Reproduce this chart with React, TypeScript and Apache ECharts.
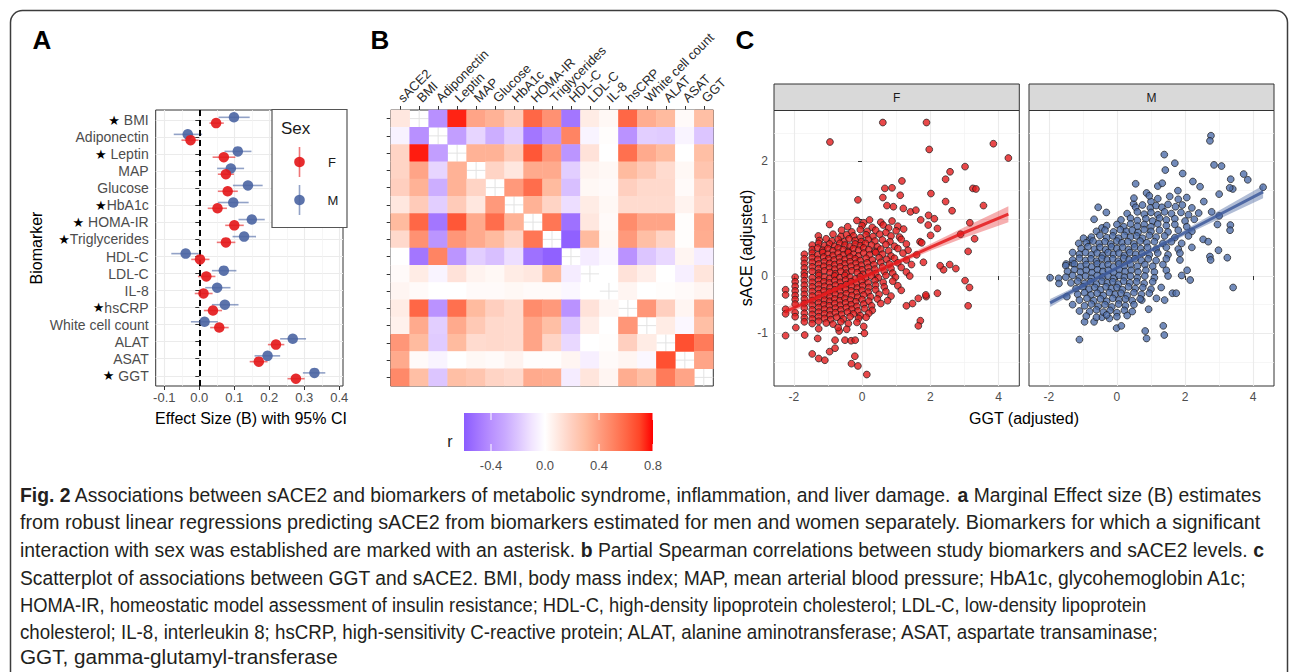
import React, { useEffect, useRef } from 'react';
import * as echarts from 'echarts';

const FONT = "'Liberation Sans', Arial, sans-serif";
const CAPFONT = "'Liberation Sans Narrow', 'Liberation Sans', Arial, sans-serif";

// ---------- Panel A ----------
const aLabels = ['★ BMI', 'Adiponectin', '★ Leptin', 'MAP', 'Glucose', '★HbA1c', '★ HOMA-IR', '★Triglycerides', 'HDL-C', 'LDL-C', 'IL-8', '★hsCRP', 'White cell count', 'ALAT', 'ASAT', '★ GGT'];
const mEst = [0.099, -0.033, 0.110, 0.090, 0.139, 0.097, 0.150, 0.128, -0.039, 0.070, 0.051, 0.073, 0.015, 0.267, 0.195, 0.329];
const mLo = [0.055, -0.073, 0.072, 0.051, 0.096, 0.053, 0.112, 0.095, -0.080, 0.036, 0.017, 0.036, -0.024, 0.231, 0.158, 0.296];
const mHi = [0.144, 0.008, 0.149, 0.128, 0.181, 0.141, 0.187, 0.162, -0.002, 0.106, 0.089, 0.112, 0.053, 0.305, 0.231, 0.360];
const fEst = [0.048, -0.025, 0.070, 0.076, 0.081, 0.052, 0.100, 0.076, 0.002, 0.020, 0.012, 0.039, 0.057, 0.219, 0.170, 0.276];
const fLo = [0.029, -0.051, 0.038, 0.053, 0.053, 0.024, 0.074, 0.050, -0.023, -0.004, -0.013, 0.013, 0.031, 0.196, 0.144, 0.252];
const fHi = [0.070, -0.002, 0.103, 0.099, 0.110, 0.079, 0.127, 0.103, 0.029, 0.046, 0.038, 0.065, 0.084, 0.243, 0.195, 0.301];
const aXTicks = [-0.1, 0, 0.1, 0.2, 0.3, 0.4];

// ---------- Panel B ----------
const heatCols = ['sACE2', 'BMI', 'Adiponectin', 'Leptin', 'MAP', 'Glucose', 'HbA1c', 'HOMA-IR', 'Triglycerides', 'HDL-C', 'LDL-C', 'IL-8', 'hsCRP', 'White cell count', 'ALAT', 'ASAT', 'GGT'];
const heatRows = ['BMI', 'Adiponectin', 'Leptin', 'MAP', 'Glucose', 'HbA1c', 'HOMA-IR', 'Triglycerides', 'HDL-C', 'LDL-C', 'IL-8', 'hsCRP', 'White cell count', 'ALAT', 'ASAT', 'GGT'];
const corr: (number | null)[][] = [
  [0.10, null, -0.40, 0.75, 0.38, 0.33, 0.22, 0.60, 0.45, -0.50, 0.08, 0.03, 0.60, 0.35, 0.30, 0.02, 0.28],
  [-0.05, -0.40, null, -0.34, -0.15, -0.28, -0.17, -0.50, -0.38, 0.50, -0.04, 0.01, -0.39, -0.17, -0.18, -0.04, -0.20],
  [0.18, 0.76, -0.34, null, 0.33, 0.33, 0.22, 0.65, 0.43, -0.38, 0.12, 0.00, 0.57, 0.36, 0.30, 0.00, 0.28],
  [0.18, 0.38, -0.15, 0.33, null, 0.18, 0.10, 0.36, 0.36, -0.17, 0.05, 0.03, 0.30, 0.23, 0.15, 0.03, 0.25],
  [0.20, 0.33, -0.28, 0.33, 0.18, null, 0.42, 0.58, 0.30, -0.22, 0.03, 0.02, 0.20, 0.16, 0.16, 0.02, 0.18],
  [0.10, 0.22, -0.17, 0.22, 0.10, 0.42, null, 0.33, 0.18, -0.12, 0.08, 0.03, 0.15, 0.15, 0.15, 0.05, 0.16],
  [0.30, 0.60, -0.50, 0.65, 0.36, 0.58, 0.33, null, 0.55, -0.52, 0.10, 0.02, 0.47, 0.38, 0.38, 0.01, 0.36],
  [0.16, 0.45, -0.38, 0.43, 0.36, 0.30, 0.18, 0.55, null, -0.58, 0.30, 0.03, 0.42, 0.28, 0.18, 0.01, 0.35],
  [0.00, -0.50, 0.50, -0.38, -0.17, -0.22, -0.12, -0.52, -0.58, null, -0.07, -0.03, -0.39, -0.20, -0.14, 0.04, -0.07],
  [0.02, 0.08, -0.04, 0.12, 0.05, 0.03, 0.08, 0.10, 0.30, -0.07, null, 0.00, 0.12, 0.07, 0.00, -0.06, 0.11],
  [0.04, 0.02, 0.00, 0.00, 0.02, 0.02, 0.03, 0.02, 0.02, -0.03, 0.00, null, 0.04, 0.00, 0.01, 0.02, 0.04],
  [0.08, 0.60, -0.39, 0.57, 0.30, 0.20, 0.15, 0.47, 0.42, -0.39, 0.12, 0.04, null, 0.43, 0.20, 0.04, 0.35],
  [0.06, 0.36, -0.17, 0.36, 0.23, 0.16, 0.15, 0.38, 0.28, -0.20, 0.07, 0.00, 0.43, null, 0.08, -0.03, 0.28],
  [0.43, 0.30, -0.18, 0.30, 0.15, 0.16, 0.15, 0.38, 0.18, -0.14, 0.00, 0.01, 0.20, 0.08, null, 0.67, 0.53],
  [0.36, 0.02, -0.04, 0.00, 0.03, 0.02, 0.05, 0.01, 0.01, 0.04, -0.06, 0.02, 0.04, -0.03, 0.67, null, 0.38],
  [0.48, 0.28, -0.20, 0.28, 0.25, 0.18, 0.16, 0.36, 0.35, -0.07, 0.11, 0.04, 0.35, 0.28, 0.53, 0.38, null],
];
const heatMin = -0.6;
const heatMax = 0.8;
const heatColors = ['#8B5CFF', '#A376FF', '#B890FF', '#C8A8FF', '#DCC5FF', '#F1E4FF', '#FFFFFF', '#FFE7DF', '#FFCFBF', '#FFBB9F', '#FF9E81', '#FF8463', '#FF6746', '#FF4628', '#FF0000'];
const cbTicks = [-0.4, 0, 0.4, 0.8];

// ---------- Panel C ----------
const cXTicks = [-2, 0, 2, 4];
const cYTicks = [-1, 0, 1, 2];
const fPts: number[][] = [
  [0.61, 2.68], [1.89, 2.68], [-0.94, 2.34], [1.97, 2.21], [3.85, 2.31], [4.29, 2.06], [3.02, 1.91], [2.58, 1.82], [2.45, 1.69], [1.17, 1.66],
  [0.67, 1.53], [0.88, 1.54], [3.25, 1.53], [3.34, 1.52], [2.02, 1.44], [-0.12, 1.33], [1.12, 1.41], [0.61, 1.37], [2.45, 1.30], [3.56, 1.23],
  [2.64, 1.14], [0.73, 1.23], [0.92, 1.21], [1.21, 1.18], [1.42, 1.12], [1.58, 1.15], [1.72, 0.98], [1.95, 1.06], [2.12, 1.0], [1.94, 0.89],
  [2.21, 0.83], [2.01, 0.71], [3.16, 0.93], [3.30, 0.65], [2.89, 0.73], [3.11, 0.43], [3.02, -0.08], [3.15, -0.20], [3.11, -0.52], [2.75, 0.13],
  [2.57, 0.20], [2.39, 0.11], [2.29, 0.18], [2.21, -0.30], [1.88, -0.36], [1.65, -0.39], [1.48, -0.48], [1.30, -0.52], [1.71, -0.78], [1.65, -0.87],
  [1.87, -0.33], [0.14, -1.72], [-0.12, -1.57], [-0.31, -1.53], [-0.21, -1.40], [-0.95, -1.32], [-0.79, -1.26], [-1.46, -1.36], [-1.27, -1.44], [-1.09, -1.47],
  [-2.24, -1.04], [-1.94, -0.90], [-1.68, -1.03], [-1.30, -1.09], [-0.79, -1.12], [-0.50, -1.12], [-0.32, -1.13], [-0.20, -1.12], [0.07, -1.00], [-0.67, -0.96],
  [-0.15, 0.97], [0.05, 0.93], [0.22, 0.98], [0.55, 0.94], [0.88, 0.96],
  [-0.95, 0.9], [-0.42, 0.86], [0.0, 0.88], [0.3, 0.85], [0.62, 0.89], [0.78, 0.84], [1.05, 0.87],
  [-0.6, 0.8], [-0.3, 0.77], [-0.05, 0.81], [0.15, 0.78], [0.4, 0.8], [0.7, 0.76], [1.0, 0.79], [1.22, 0.82],
  [-1.28, 0.7], [-0.85, 0.73], [-0.62, 0.69], [-0.45, 0.72], [-0.25, 0.7], [-0.05, 0.67], [0.12, 0.72], [0.32, 0.69], [0.52, 0.73], [0.85, 0.7], [1.1, 0.68],
  [-1.25, 0.62], [-1.05, 0.65], [-0.88, 0.61], [-0.7, 0.64], [-0.52, 0.6], [-0.38, 0.65], [-0.2, 0.62], [-0.02, 0.6], [0.18, 0.64], [0.38, 0.61], [0.6, 0.63], [0.82, 0.6], [1.15, 0.64], [1.7, 0.6],
  [-1.46, 0.54], [-1.27, 0.57], [-1.1, 0.53], [-0.95, 0.56], [-0.8, 0.52], [-0.65, 0.57], [-0.5, 0.54], [-0.35, 0.52], [-0.2, 0.56], [-0.05, 0.53], [0.1, 0.57], [0.28, 0.54], [0.45, 0.51], [0.7, 0.55], [0.95, 0.52], [1.3, 0.56], [1.75, 0.58],
  [-1.46, 0.46], [-1.3, 0.49], [-1.15, 0.45], [-1.0, 0.48], [-0.85, 0.44], [-0.7, 0.49], [-0.55, 0.46], [-0.4, 0.43], [-0.25, 0.48], [-0.1, 0.45], [0.05, 0.49], [0.2, 0.46], [0.38, 0.43], [0.55, 0.47], [0.78, 0.44], [1.05, 0.48], [1.35, 0.45],
  [-1.69, 0.38], [-1.46, 0.4], [-1.3, 0.37], [-1.15, 0.41], [-1.0, 0.38], [-0.85, 0.36], [-0.7, 0.4], [-0.55, 0.37], [-0.4, 0.41], [-0.25, 0.38], [-0.1, 0.35], [0.05, 0.4], [0.22, 0.37], [0.4, 0.41], [0.6, 0.38], [0.85, 0.35], [1.2, 0.4], [1.6, 0.37],
  [-1.69, 0.3], [-1.46, 0.32], [-1.3, 0.29], [-1.12, 0.33], [-0.98, 0.3], [-0.82, 0.28], [-0.66, 0.32], [-0.5, 0.29], [-0.35, 0.33], [-0.2, 0.3], [-0.05, 0.27], [0.12, 0.31], [0.3, 0.28], [0.5, 0.32], [0.72, 0.29], [0.95, 0.31], [1.3, 0.28],
  [-1.69, 0.22], [-1.46, 0.24], [-1.27, 0.21], [-1.1, 0.25], [-0.95, 0.22], [-0.8, 0.2], [-0.65, 0.24], [-0.5, 0.21], [-0.35, 0.25], [-0.18, 0.22], [-0.02, 0.19], [0.15, 0.23], [0.35, 0.2], [0.55, 0.24], [0.8, 0.21], [1.05, 0.23], [1.45, 0.2], [1.8, 0.24],
  [-1.69, 0.14], [-1.46, 0.16], [-1.27, 0.13], [-1.12, 0.17], [-0.96, 0.14], [-0.8, 0.12], [-0.64, 0.16], [-0.48, 0.13], [-0.32, 0.17], [-0.15, 0.14], [0.0, 0.11], [0.18, 0.15], [0.38, 0.12], [0.6, 0.16], [0.85, 0.13], [1.15, 0.15],
  [-1.69, 0.06], [-1.46, 0.08], [-1.27, 0.05], [-1.1, 0.09], [-0.94, 0.06], [-0.78, 0.04], [-0.62, 0.08], [-0.46, 0.05], [-0.3, 0.09], [-0.14, 0.06], [0.03, 0.03], [0.2, 0.07], [0.4, 0.04], [0.65, 0.08], [0.9, 0.05], [1.3, 0.07],
  [-1.96, -0.02], [-1.69, 0.0], [-1.46, -0.03], [-1.27, 0.01], [-1.1, -0.02], [-0.95, -0.04], [-0.8, 0.0], [-0.65, -0.03], [-0.5, 0.01], [-0.35, -0.02], [-0.2, -0.05], [-0.05, -0.01], [0.1, -0.04], [0.28, 0.0], [0.48, -0.03], [0.7, 0.01], [0.98, -0.02], [1.4, 0.0],
  [-1.96, -0.1], [-1.69, -0.08], [-1.46, -0.11], [-1.27, -0.07], [-1.12, -0.1], [-0.96, -0.12], [-0.8, -0.08], [-0.64, -0.11], [-0.48, -0.07], [-0.32, -0.1], [-0.16, -0.13], [0.0, -0.09], [0.18, -0.12], [0.38, -0.08], [0.62, -0.11], [0.9, -0.09],
  [-1.96, -0.18], [-1.69, -0.16], [-1.46, -0.19], [-1.27, -0.15], [-1.1, -0.18], [-0.94, -0.2], [-0.78, -0.16], [-0.62, -0.19], [-0.46, -0.15], [-0.3, -0.18], [-0.14, -0.21], [0.02, -0.17], [0.2, -0.2], [0.4, -0.16], [0.65, -0.19], [1.05, -0.17],
  [-2.24, -0.24], [-1.96, -0.26], [-1.69, -0.24], [-1.46, -0.27], [-1.27, -0.23], [-1.12, -0.26], [-0.96, -0.28], [-0.8, -0.24], [-0.64, -0.27], [-0.48, -0.23], [-0.32, -0.26], [-0.16, -0.29], [0.0, -0.25], [0.18, -0.28], [0.4, -0.24], [0.7, -0.27], [1.15, -0.25],
  [-2.24, -0.33], [-1.96, -0.34], [-1.69, -0.32], [-1.46, -0.35], [-1.27, -0.31], [-1.1, -0.34], [-0.94, -0.36], [-0.78, -0.32], [-0.62, -0.35], [-0.46, -0.31], [-0.3, -0.34], [-0.13, -0.37], [0.05, -0.33], [0.25, -0.36], [0.5, -0.32], [0.85, -0.35],
  [-1.96, -0.41], [-1.69, -0.4], [-1.46, -0.43], [-1.27, -0.39], [-1.1, -0.42], [-0.95, -0.44], [-0.8, -0.4], [-0.65, -0.43], [-0.5, -0.39], [-0.34, -0.42], [-0.18, -0.45], [0.0, -0.41], [0.2, -0.44], [0.45, -0.4], [0.75, -0.43],
  [-1.96, -0.49], [-1.69, -0.48], [-1.46, -0.51], [-1.27, -0.47], [-1.12, -0.5], [-0.96, -0.52], [-0.8, -0.48], [-0.64, -0.51], [-0.48, -0.47], [-0.32, -0.5], [-0.15, -0.53], [0.05, -0.49], [0.28, -0.52], [0.55, -0.48],
  [-2.24, -0.58], [-1.69, -0.56], [-1.46, -0.59], [-1.27, -0.55], [-1.1, -0.58], [-0.94, -0.6], [-0.78, -0.56], [-0.62, -0.59], [-0.46, -0.55], [-0.3, -0.58], [-0.12, -0.61], [0.08, -0.57], [0.3, -0.6],
  [-2.24, -0.66], [-1.96, -0.64], [-1.69, -0.65], [-1.46, -0.67], [-1.27, -0.63], [-1.1, -0.66], [-0.94, -0.68], [-0.78, -0.64], [-0.6, -0.67], [-0.42, -0.63], [-0.25, -0.66], [-0.05, -0.69], [0.2, -0.65],
  [-1.96, -0.71], [-1.69, -0.73], [-1.46, -0.75], [-1.27, -0.71], [-1.1, -0.74], [-0.92, -0.76], [-0.74, -0.72], [-0.55, -0.75], [-0.35, -0.71], [-0.1, -0.74], [0.12, -0.72],
  [-1.69, -0.8], [-1.46, -0.83], [-1.27, -0.79], [-1.05, -0.82], [-0.85, -0.84], [-0.62, -0.8], [-0.4, -0.83], [-0.15, -0.81],
  [-1.27, -0.92], [-0.7, -0.9], [-0.45, -0.93], [0.05, -0.88],
];
const mPts: number[][] = [
  [2.76, 2.45], [2.73, 2.36], [1.39, 2.12], [1.70, 1.97], [2.85, 1.94], [3.07, 1.92], [1.42, 1.85], [1.93, 1.79], [0.55, 1.61], [3.72, 1.78],
  [3.84, 1.68], [3.34, 1.69], [3.40, 1.52], [3.31, 1.54], [4.29, 1.55], [2.23, 1.65], [2.44, 1.56], [1.20, 1.57], [1.33, 1.62], [1.79, 1.49],
  [2.55, 1.30], [3.00, 1.43], [-0.55, 1.20], [-0.31, 1.11], [0.49, 1.26], [1.00, 1.30], [0.87, 1.45], [-0.67, 0.99], [-0.44, 0.84], [2.27, 0.99],
  [2.95, 0.90], [3.33, 0.89], [3.32, 0.80], [3.00, 1.05], [2.78, 1.12], [2.53, 0.64], [2.68, 0.60], [2.98, 0.45], [2.73, 0.34], [2.75, 0.28],
  [3.24, 0.32], [3.41, -0.20], [2.15, -0.07], [2.06, 0.10], [1.90, 0.01], [1.63, -0.30], [1.74, -0.30], [1.40, -0.42], [0.93, -0.58], [0.73, -0.42],
  [1.16, -0.39], [1.36, -0.87], [1.39, -1.03], [0.87, -1.09], [0.83, -0.96], [-0.01, -0.91], [0.13, -0.87], [-0.67, -0.80], [-0.95, -0.80], [-1.10, -1.11],
  [-0.44, -0.72], [-0.22, -0.74], [-1.30, -0.50], [-1.10, -0.61], [-1.47, -0.36], [-1.96, -0.03], [-1.71, -0.04], [-1.70, -0.13], [-1.49, 0.21], [-1.30, 0.41],
  [-1.12, 0.57], [-0.80, 0.63], [-0.98, 0.66], [-1.30, 0.22],
  [0.5, 1.36], [0.95, 1.4], [1.2, 1.35], [1.55, 1.39], [1.8, 1.34], [2.05, 1.37],
  [0.55, 1.2], [0.75, 1.24], [0.98, 1.19], [1.15, 1.23], [1.32, 1.2], [1.5, 1.25], [1.72, 1.21], [1.92, 1.24], [2.2, 1.19],
  [0.3, 1.09], [0.6, 1.12], [0.8, 1.08], [1.0, 1.11], [1.2, 1.07], [1.4, 1.12], [1.6, 1.09], [1.88, 1.11], [2.1, 1.07], [2.4, 1.1],
  [0.12, 0.98], [0.4, 1.01], [0.6, 0.97], [0.85, 1.0], [1.05, 0.96], [1.25, 1.01], [1.45, 0.98], [1.7, 1.0], [2.0, 0.96],
  [-0.3, 0.88], [0.0, 0.9], [0.2, 0.86], [0.4, 0.91], [0.6, 0.87], [0.8, 0.9], [1.0, 0.86], [1.2, 0.91], [1.45, 0.88], [1.7, 0.9], [2.05, 0.86],
  [-0.6, 0.78], [-0.35, 0.8], [-0.1, 0.77], [0.1, 0.81], [0.28, 0.78], [0.45, 0.8], [0.62, 0.76], [0.8, 0.81], [1.0, 0.78], [1.25, 0.8], [1.5, 0.77], [1.8, 0.8], [2.2, 0.78],
  [-0.75, 0.68], [-0.5, 0.71], [-0.3, 0.67], [-0.12, 0.7], [0.05, 0.66], [0.22, 0.71], [0.4, 0.68], [0.58, 0.7], [0.75, 0.66], [0.95, 0.71], [1.15, 0.68], [1.4, 0.7], [1.7, 0.67], [2.1, 0.7],
  [-0.9, 0.58], [-0.7, 0.61], [-0.52, 0.57], [-0.35, 0.6], [-0.18, 0.56], [0.0, 0.61], [0.15, 0.58], [0.32, 0.6], [0.5, 0.56], [0.68, 0.61], [0.88, 0.58], [1.1, 0.6], [1.35, 0.57], [1.6, 0.6], [1.9, 0.57],
  [-1.05, 0.48], [-0.85, 0.51], [-0.66, 0.47], [-0.5, 0.5], [-0.33, 0.46], [-0.16, 0.51], [0.0, 0.48], [0.17, 0.5], [0.34, 0.46], [0.52, 0.51], [0.7, 0.48], [0.9, 0.5], [1.15, 0.47], [1.45, 0.5], [1.8, 0.47], [2.2, 0.5],
  [-1.1, 0.38], [-0.92, 0.41], [-0.75, 0.37], [-0.58, 0.4], [-0.42, 0.36], [-0.26, 0.41], [-0.1, 0.38], [0.06, 0.4], [0.22, 0.36], [0.38, 0.41], [0.55, 0.38], [0.74, 0.4], [0.95, 0.37], [1.2, 0.4], [1.5, 0.37], [1.85, 0.4],
  [-1.3, 0.28], [-1.1, 0.31], [-0.92, 0.27], [-0.76, 0.3], [-0.6, 0.26], [-0.44, 0.31], [-0.28, 0.28], [-0.12, 0.3], [0.04, 0.26], [0.2, 0.31], [0.36, 0.28], [0.53, 0.3], [0.72, 0.27], [0.92, 0.3], [1.15, 0.27], [1.45, 0.3], [1.85, 0.28],
  [-1.5, 0.18], [-1.25, 0.21], [-1.06, 0.17], [-0.9, 0.2], [-0.74, 0.16], [-0.58, 0.21], [-0.42, 0.18], [-0.26, 0.2], [-0.1, 0.16], [0.06, 0.21], [0.22, 0.18], [0.4, 0.2], [0.6, 0.17], [0.82, 0.2], [1.05, 0.17], [1.35, 0.2],
  [-1.45, 0.08], [-1.25, 0.11], [-1.07, 0.07], [-0.9, 0.1], [-0.73, 0.06], [-0.57, 0.11], [-0.41, 0.08], [-0.25, 0.1], [-0.09, 0.06], [0.07, 0.11], [0.24, 0.08], [0.42, 0.1], [0.62, 0.07], [0.85, 0.1], [1.1, 0.07], [1.45, 0.1],
  [-1.5, -0.02], [-1.3, 0.01], [-1.1, -0.03], [-0.92, 0.0], [-0.75, -0.04], [-0.58, 0.01], [-0.42, -0.02], [-0.26, 0.0], [-0.1, -0.04], [0.06, 0.01], [0.22, -0.02], [0.4, 0.0], [0.6, -0.03], [0.82, 0.0], [1.1, -0.03], [1.5, 0.0],
  [-1.35, -0.12], [-1.15, -0.09], [-0.95, -0.13], [-0.77, -0.1], [-0.6, -0.14], [-0.44, -0.09], [-0.28, -0.12], [-0.12, -0.1], [0.04, -0.14], [0.2, -0.09], [0.38, -0.12], [0.58, -0.1], [0.8, -0.13], [1.05, -0.1],
  [-1.2, -0.22], [-1.0, -0.19], [-0.82, -0.23], [-0.65, -0.2], [-0.48, -0.24], [-0.32, -0.19], [-0.16, -0.22], [0.0, -0.2], [0.16, -0.24], [0.34, -0.19], [0.54, -0.22], [0.76, -0.2], [1.0, -0.23], [1.3, -0.2],
  [-1.15, -0.32], [-0.95, -0.29], [-0.76, -0.33], [-0.58, -0.3], [-0.4, -0.34], [-0.22, -0.29], [-0.05, -0.32], [0.12, -0.3], [0.3, -0.34], [0.5, -0.29], [0.72, -0.32], [0.95, -0.3],
  [-1.1, -0.42], [-0.88, -0.39], [-0.68, -0.43], [-0.48, -0.4], [-0.3, -0.44], [-0.12, -0.39], [0.06, -0.42], [0.25, -0.4], [0.45, -0.43], [0.68, -0.4],
  [-0.95, -0.52], [-0.75, -0.49], [-0.55, -0.53], [-0.35, -0.5], [-0.15, -0.54], [0.05, -0.49], [0.25, -0.52], [0.5, -0.5],
  [-0.8, -0.62], [-0.6, -0.59], [-0.4, -0.63], [-0.2, -0.6], [0.0, -0.64], [0.22, -0.6], [0.45, -0.62],
  [-0.9, -0.7], [-0.6, -0.72], [-0.3, -0.68], [0.0, -0.71], [0.3, -0.69],
];
const fFitX = [-2.24, -1, 0, 1, 2, 3, 4.29];
const fFitY = [-0.62, -0.29, -0.03, 0.23, 0.5, 0.76, 1.08];
const fFitHalf = [0.07, 0.045, 0.03, 0.04, 0.06, 0.09, 0.14];
const mFitX = [-1.96, -1, 0, 1, 2, 3, 4.29];
const mFitY = [-0.47, -0.17, 0.14, 0.45, 0.76, 1.07, 1.47];
const mFitHalf = [0.07, 0.045, 0.03, 0.035, 0.05, 0.075, 0.11];

// ---------- Caption ----------
const captionLines: { t: string; b?: boolean }[][] = [
  [{ t: 'Fig. 2', b: true }, { t: ' Associations between sACE2 and biomarkers of metabolic syndrome, inflammation, and liver damage. ' }, { t: 'a', b: true }, { t: ' Marginal Effect size (B) estimates' }],
  [{ t: 'from robust linear regressions predicting sACE2 from biomarkers estimated for men and women separately. Biomarkers for which a significant' }],
  [{ t: 'interaction with sex was established are marked with an asterisk. ' }, { t: 'b', b: true }, { t: ' Partial Spearman correlations between study biomarkers and sACE2 levels. ' }, { t: 'c', b: true }],
  [{ t: 'Scatterplot of associations between GGT and sACE2. BMI, body mass index; MAP, mean arterial blood pressure; HbA1c, glycohemoglobin A1c;' }],
  [{ t: 'HOMA-IR, homeostatic model assessment of insulin resistance; HDL-C, high-density lipoprotein cholesterol; LDL-C, low-density lipoprotein' }],
  [{ t: 'cholesterol; IL-8, interleukin 8; hsCRP, high-sensitivity C-reactive protein; ALAT, alanine aminotransferase; ASAT, aspartate transaminase;' }],
  [{ t: 'GGT, gamma-glutamyl-transferase' }],
];

const F_COL = '#E41A1C';
const M_COL = '#4A64A2';

function txt(x: number, y: number, text: string, o: any = {}) {
  const align = o.align ?? 'center';
  const va = o.va ?? 'middle';
  return {
    type: 'text', x, y, z: 60, silent: true,
    rotation: o.rot ?? 0,
    scaleX: o.sx ?? 1,
    style: {
      text,
      fontSize: o.size ?? 13,
      fontFamily: o.font ?? FONT,
      fontWeight: o.bold ? 'bold' : 'normal',
      fill: o.color ?? '#1a1a1a',
      align, verticalAlign: va, textAlign: align, textVerticalAlign: va,
      rich: o.rich,
    },
  };
}

export default function App() {
  const ref = useRef<HTMLDivElement>(null);
  useEffect(() => {
    if (!ref.current) return;
    const chart = echarts.init(ref.current, undefined, { renderer: 'svg' });

    // caption measurement for horizontal fitting
    const capSize = 19.5;
    const capTargets = [1242, 1242, 1244, 1228, 1127, 1140, 318];
    const capY = [495, 522.5, 550, 577.7, 605, 632.3, 657.7];
    const ctx = document.createElement('canvas').getContext('2d')!;
    const capEls = captionLines.map((segs, i) => {
      let w = 0;
      segs.forEach((s) => {
        ctx.font = `${s.b ? 'bold ' : ''}${capSize}px ${CAPFONT}`;
        w += ctx.measureText(s.t).width;
      });
      const sx = w > 0 ? capTargets[i] / w : 1;
      const text = segs.map((s) => (s.b ? `{b|${s.t}}` : `{n|${s.t}}`)).join('');
      return txt(20, capY[i], text, {
        align: 'left', sx, size: capSize, font: CAPFONT, color: '#231f20',
        rich: {
          b: { fontWeight: 'bold', fontSize: capSize, fontFamily: CAPFONT, fill: '#231f20', color: '#231f20' },
          n: { fontSize: capSize, fontFamily: CAPFONT, fill: '#231f20', color: '#231f20' },
        },
      });
    });

    const gridLine = { show: true, lineStyle: { color: '#EBEBEB', width: 1.1 } };
    const minorLine = { show: true, lineStyle: { color: '#F2F2F2', width: 0.7 } };
    const tickStyle = { lineStyle: { color: '#333', width: 1 } };
    const labelGrey = { color: '#4D4D4D', fontSize: 13, fontFamily: FONT };

    // heatmap data
    const heatData: any[] = [];
    const naCells: number[][] = [];
    corr.forEach((row, r) => row.forEach((v, c) => {
      if (v === null) { naCells.push([c, r]); heatData.push([c, r, '-']); }
      else heatData.push([c, r, v]);
    }));

    const off = 0.17;
    const errBar = (lo: number[], hi: number[], d: number, color: string) => ({
      type: 'custom', xAxisIndex: 0, yAxisIndex: 0, silent: true, z: 3,
      data: lo.map((l, i) => [l, hi[i], i + 1 + d]),
      encode: { x: [0, 1], y: 2 },
      renderItem: (_p: any, api: any) => {
        const a = api.coord([api.value(0), api.value(2)]);
        const b = api.coord([api.value(1), api.value(2)]);
        return { type: 'line', shape: { x1: a[0], y1: a[1], x2: b[0], y2: b[1] }, style: { stroke: color, lineWidth: 1.6, opacity: 0.6 } };
      },
    });

    const band = (xs: number[], fit: number[], half: number[], fill: string, idx: number) => ({
      type: 'custom', xAxisIndex: idx, yAxisIndex: idx, silent: true, z: 4,
      data: [[xs[0], fit[0]]],
      renderItem: (_p: any, api: any) => {
        const up = xs.map((x, i) => api.coord([x, fit[i] + half[i]]));
        const dn = xs.map((x, i) => api.coord([x, fit[i] - half[i]])).reverse();
        return { type: 'polygon', shape: { points: up.concat(dn) }, style: { fill } };
      },
    });

    const cx = (gi: number, showLabel: boolean) => ({
      type: 'value', gridIndex: gi, min: -2.58, max: 4.61, splitNumber: 4,
      axisLine: { show: false },
      axisTick: { show: true, length: 4, customValues: cXTicks, ...tickStyle },
      axisLabel: { show: showLabel, customValues: cXTicks, ...labelGrey, fontSize: 12, margin: 5 },
      splitLine: gridLine, minorTick: { show: false, splitNumber: 2 }, minorSplitLine: minorLine,
    });
    const cy = (gi: number, showLabel: boolean) => ({
      type: 'value', gridIndex: gi, min: -1.92, max: 2.89, splitNumber: 5,
      axisLine: { show: false },
      axisTick: { show: showLabel, length: 4, customValues: cYTicks, ...tickStyle },
      axisLabel: { show: showLabel, customValues: cYTicks, ...labelGrey, fontSize: 12, margin: 6 },
      splitLine: gridLine, minorTick: { show: false, splitNumber: 2 }, minorSplitLine: minorLine,
    });

    const series: any[] = [
      {
        type: 'scatter', xAxisIndex: 0, yAxisIndex: 0, data: [], silent: true, z: 2,
        markLine: { silent: true, symbol: 'none', label: { show: false }, lineStyle: { color: '#000', width: 2, type: [6, 4] }, data: [{ xAxis: 0 }] },
      },
      errBar(mLo, mHi, -off, M_COL),
      errBar(fLo, fHi, off, F_COL),
      {
        type: 'scatter', xAxisIndex: 0, yAxisIndex: 0, silent: true, z: 5, symbolSize: 10.5,
        data: mEst.map((v, i) => [v, i + 1 - off]),
        itemStyle: { color: M_COL, opacity: 0.9 },
      },
      {
        type: 'scatter', xAxisIndex: 0, yAxisIndex: 0, silent: true, z: 5, symbolSize: 10.5,
        data: fEst.map((v, i) => [v, i + 1 + off]),
        itemStyle: { color: F_COL, opacity: 0.92 },
      },
      {
        type: 'heatmap', xAxisIndex: 1, yAxisIndex: 1, data: heatData, silent: true,
        itemStyle: { borderWidth: 0 }, emphasis: { disabled: true },
      },
      {
        type: 'custom', xAxisIndex: 1, yAxisIndex: 1, silent: true, z: 1,
        data: naCells,
        renderItem: (_p: any, api: any) => {
          const p = api.coord([api.value(0), api.value(1)]);
          const s = api.size([1, 1]);
          return {
            type: 'group', children: [
              { type: 'line', shape: { x1: p[0] - s[0] / 2, y1: p[1], x2: p[0] + s[0] / 2, y2: p[1] }, style: { stroke: '#E3E3E3', lineWidth: 1 } },
              { type: 'line', shape: { x1: p[0], y1: p[1] - s[1] / 2, x2: p[0], y2: p[1] + s[1] / 2 }, style: { stroke: '#E3E3E3', lineWidth: 1 } },
            ],
          };
        },
      },
      {
        type: 'scatter', xAxisIndex: 2, yAxisIndex: 2, silent: true, z: 3, symbolSize: 6.8, data: fPts,
        itemStyle: { color: F_COL, borderColor: '#1a1a1a', borderWidth: 0.9 },
      },
      band(fFitX, fFitY, fFitHalf, 'rgba(228,26,28,0.35)', 2),
      {
        type: 'line', xAxisIndex: 2, yAxisIndex: 2, silent: true, z: 5, showSymbol: false, symbol: 'none',
        data: fFitX.map((x, i) => [x, fFitY[i]]),
        lineStyle: { color: '#E41A1C', width: 3, opacity: 0.85 },
      },
      {
        type: 'scatter', xAxisIndex: 3, yAxisIndex: 3, silent: true, z: 3, symbolSize: 6.8, data: mPts,
        itemStyle: { color: '#4F6EAA', borderColor: '#1a1a1a', borderWidth: 0.9 },
      },
      band(mFitX, mFitY, mFitHalf, 'rgba(61,90,153,0.4)', 3),
      {
        type: 'line', xAxisIndex: 3, yAxisIndex: 3, silent: true, z: 5, showSymbol: false, symbol: 'none',
        data: mFitX.map((x, i) => [x, mFitY[i]]),
        lineStyle: { color: '#3F5C9C', width: 3, opacity: 0.85 },
      },
    ];

    // colorbar
    const cbX = 464, cbY = 413, cbW = 189, cbH = 38;
    const cbPos = (v: number) => cbX + ((v - heatMin) / (heatMax - heatMin)) * cbW;
    const cbEls: any[] = [
      {
        type: 'rect', z: 50, silent: true, shape: { x: cbX, y: cbY, width: cbW, height: cbH },
        style: {
          fill: {
            type: 'linear', x: 0, y: 0, x2: 1, y2: 0,
            colorStops: heatColors.map((c, i) => ({ offset: i / (heatColors.length - 1), color: c })),
          },
        },
      },
      txt(450, 441, 'r', { size: 16 }),
    ];
    cbTicks.forEach((v) => {
      const x = cbPos(v);
      cbEls.push({ type: 'line', z: 51, silent: true, shape: { x1: x, y1: cbY, x2: x, y2: cbY + 7 }, style: { stroke: '#fff', lineWidth: 1 } });
      cbEls.push({ type: 'line', z: 51, silent: true, shape: { x1: x, y1: cbY + cbH - 7, x2: x, y2: cbY + cbH }, style: { stroke: '#fff', lineWidth: 1 } });
      cbEls.push(txt(x, 465, v.toFixed(1), { size: 13, color: '#4D4D4D' }));
    });

    const legendEls: any[] = [
      { type: 'rect', z: 55, silent: true, shape: { x: 272, y: 109.5, width: 75, height: 118 }, style: { fill: '#fff', stroke: '#555', lineWidth: 1.2 } },
      txt(281, 128, 'Sex', { size: 17, align: 'left' }),
      { type: 'line', z: 56, silent: true, shape: { x1: 299.5, y1: 147, x2: 299.5, y2: 177 }, style: { stroke: F_COL, lineWidth: 1.6, opacity: 0.6 } },
      { type: 'circle', z: 57, silent: true, shape: { cx: 299.5, cy: 162, r: 5.3 }, style: { fill: F_COL, opacity: 0.92 } },
      txt(332, 162, 'F', { size: 13 }),
      { type: 'line', z: 56, silent: true, shape: { x1: 299.5, y1: 185, x2: 299.5, y2: 215 }, style: { stroke: M_COL, lineWidth: 1.6, opacity: 0.6 } },
      { type: 'circle', z: 57, silent: true, shape: { cx: 299.5, cy: 200, r: 5.3 }, style: { fill: M_COL, opacity: 0.9 } },
      txt(333, 200, 'M', { size: 13 }),
    ];

    const stripEls: any[] = [
      { type: 'rect', z: 50, silent: true, shape: { x: 774, y: 84, width: 245.3, height: 26.5 }, style: { fill: '#D9D9D9', stroke: '#333', lineWidth: 1 } },
      txt(896.7, 97.5, 'F', { size: 12 }),
      { type: 'rect', z: 50, silent: true, shape: { x: 1029, y: 84, width: 245, height: 26.5 }, style: { fill: '#D9D9D9', stroke: '#333', lineWidth: 1 } },
      txt(1151.5, 97.5, 'M', { size: 12 }),
    ];

    const option: any = {
      animation: false,
      backgroundColor: '#fff',
      textStyle: { fontFamily: FONT },
      grid: [
        { left: 155.7, top: 110, width: 187.3, height: 276, show: true, borderColor: '#333', borderWidth: 1, backgroundColor: '#fff' },
        { left: 390.7, top: 110, width: 322.6, height: 276, show: true, borderColor: '#333', borderWidth: 1, backgroundColor: '#fff' },
        { left: 774, top: 110.5, width: 245.3, height: 275.5, show: true, borderColor: '#333', borderWidth: 1, backgroundColor: '#fff' },
        { left: 1029, top: 110.5, width: 245, height: 275.5, show: true, borderColor: '#333', borderWidth: 1, backgroundColor: '#fff' },
      ],
      xAxis: [
        {
          type: 'value', gridIndex: 0, min: -0.1246, max: 0.4106, splitNumber: 5,
          axisLine: { show: false },
          axisTick: { show: true, length: 4, customValues: aXTicks, ...tickStyle },
          axisLabel: { customValues: aXTicks, formatter: (v: number) => v.toFixed(1), ...labelGrey, margin: 5 },
          splitLine: gridLine, minorTick: { show: false, splitNumber: 2 }, minorSplitLine: minorLine,
        },
        {
          type: 'category', gridIndex: 1, position: 'top', data: heatCols,
          axisLine: { show: false },
          axisTick: { show: true, alignWithLabel: true, interval: 0, length: 4, ...tickStyle },
          axisLabel: { rotate: -45, interval: 0, fontSize: 13, color: '#2a2a2a', fontFamily: FONT, margin: 10 },
          splitLine: { show: false },
        },
        cx(2, true),
        cx(3, true),
      ],
      yAxis: [
        {
          type: 'value', gridIndex: 0, min: 0.4, max: 16.6, inverse: true, splitNumber: 16,
          axisLine: { show: false },
          axisTick: { show: true, length: 4, customValues: aLabels.map((_, i) => i + 1), ...tickStyle },
          axisLabel: {
            customValues: aLabels.map((_, i) => i + 1),
            margin: 7,
            formatter: (v: number) => {
              const s = aLabels[Math.round(v) - 1] ?? '';
              if (s.startsWith('★')) return '{s|★}{t|' + s.slice(1) + '}';
              return '{t|' + s + '}';
            },
            rich: {
              s: { fontSize: 13, color: '#000', fontFamily: "'DejaVu Sans', sans-serif" },
              t: { fontSize: 14, color: '#4D4D4D', fontFamily: FONT },
            },
          },
          splitLine: gridLine, minorTick: { show: false }, minorSplitLine: { show: false },
        },
        {
          type: 'category', gridIndex: 1, data: heatRows, inverse: true,
          axisLine: { show: false },
          axisTick: { show: true, alignWithLabel: true, interval: 0, length: 4, ...tickStyle },
          axisLabel: { show: false },
          splitLine: { show: false },
        },
        cy(2, true),
        cy(3, false),
      ],
      visualMap: {
        type: 'continuous', show: false, min: heatMin, max: heatMax, seriesIndex: 5, dimension: 2,
        inRange: { color: heatColors },
      },
      series,
      graphic: {
        elements: [
          { type: 'rect', z: 40, silent: true, shape: { x: 10.5, y: 10.5, width: 1277, height: 720, r: 12 }, style: { fill: 'none', stroke: '#3c3c3c', lineWidth: 1.5 } },
          txt(42, 40, 'A', { size: 26, bold: true, color: '#000' }),
          txt(380, 40, 'B', { size: 26, bold: true, color: '#000' }),
          txt(745, 40, 'C', { size: 26, bold: true, color: '#000' }),
          txt(36, 248, 'Biomarker', { size: 16, rot: Math.PI / 2, color: '#000' }),
          txt(251, 418, 'Effect Size (B) with 95% CI', { size: 16, color: '#000' }),
          txt(746, 248, 'sACE (adjusted)', { size: 16, rot: Math.PI / 2, color: '#000' }),
          txt(1024, 418, 'GGT (adjusted)', { size: 16, color: '#000' }),
          ...legendEls,
          ...stripEls,
          ...cbEls,
          ...capEls,
        ],
      },
    };
    chart.setOption(option);
    return () => chart.dispose();
  }, []);
  return <div ref={ref} style={{ position: 'absolute', left: 0, top: 0, width: 1292, height: 672, background: '#fff' }} />;
}
